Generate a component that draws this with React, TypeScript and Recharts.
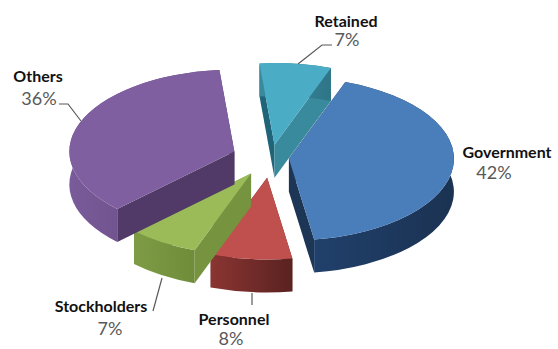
import React from "react";
import { PieChart, Pie } from "recharts";

const names = ["Retained", "Government", "Personnel", "Stockholders", "Others"];
const shares = [7, 42, 8, 7, 36];
const chartData = names.map((name, i) => ({ name, value: shares[i] }));

// how far each wedge is pulled out of the pie, along its middle angle
const explode = [27, 18, 40, 37, 39];

const SQUASH = 0.495;
const DEPTH = 33;
const RAD = Math.PI / 180;

const FACES = [
  { top: "#4BACC6", inner: "#1F6478", side: "#3A8A9E", wallFrom: "#3A8A9E", wallTo: "#2F7588" },
  { top: "#4A7EBB", inner: "#1D3656", side: "#1D3656", wallFrom: "#20406B", wallTo: "#1B3252" },
  { top: "#C0504D", inner: "#5C2321", side: "#5C2321", wallFrom: "#8A3532", wallTo: "#5A2220" },
  { top: "#9BBB59", inner: "#76933F", side: "#76933F", wallFrom: "#7E9C45", wallTo: "#6F8C3A" },
  { top: "#7F5F9F", inner: "#513A68", side: "#513A68", wallFrom: "#7A5B9A", wallTo: "#5C4478" },
];

const LABELS = [
  { nameX: 346, nameY: 27, pctX: 347, pctY: 46, leader: "332,45 322,45 298,64" },
  { nameX: 507, nameY: 158, pctX: 494, pctY: 179, leader: "" },
  { nameX: 234, nameY: 325, pctX: 231, pctY: 345, leader: "252,293 252,305" },
  { nameX: 101, nameY: 312, pctX: 110, pctY: 335, leader: "153,311 162,278" },
  { nameX: 38, nameY: 82, pctX: 39, pctY: 105, leader: "59,104 68,104 81,121" },
];

// flattened wedge with a bit of height: radial walls, rim, then the top
const Wedge3D = (props: any) => {
  const { cx, cy, outerRadius: r, startAngle, endAngle, index } = props;
  const mid = ((startAngle + endAngle) / 2) * RAD;
  const ox = cx + explode[index] * Math.cos(mid);
  const oy = cy - explode[index] * Math.sin(mid) * SQUASH;
  const ry = r * SQUASH;
  const at = (deg: number, drop = 0) =>
    `${ox + r * Math.cos(deg * RAD)} ${oy - ry * Math.sin(deg * RAD) + drop}`;
  const large = Math.abs(startAngle - endAngle) > 180 ? 1 : 0;
  const apex = `${ox} ${oy}`;
  const apexLow = `${ox} ${oy + DEPTH}`;
  const face = FACES[index];
  const gradId = `rim-${index}`;

  const top = `M${apex} L${at(startAngle)} A${r} ${ry} 0 ${large} 1 ${at(endAngle)} Z`;
  const rim =
    `M${at(startAngle)} A${r} ${ry} 0 ${large} 1 ${at(endAngle)} ` +
    `L${at(endAngle, DEPTH)} A${r} ${ry} 0 ${large} 0 ${at(startAngle, DEPTH)} Z`;
  const wallStart = `M${apex} L${at(startAngle)} L${at(startAngle, DEPTH)} L${apexLow} Z`;
  const wallEnd = `M${apex} L${at(endAngle)} L${at(endAngle, DEPTH)} L${apexLow} Z`;

  return (
    <g>
      <defs>
        <linearGradient id={gradId} x1="0" y1="0" x2="1" y2="0">
          <stop offset="0%" stopColor={face.wallFrom} />
          <stop offset="100%" stopColor={face.wallTo} />
        </linearGradient>
      </defs>
      <path d={wallStart} fill={face.inner} />
      <path d={wallEnd} fill={face.side} />
      <path d={rim} fill={`url(#${gradId})`} />
      <path d={top} fill={face.top} />
    </g>
  );
};

const renderLabel = (props: any) => {
  const { index, name, value } = props;
  const l = LABELS[index];
  return (
    <g fontFamily="Lato">
      {l.leader && <polyline points={l.leader} fill="none" stroke="#595959" strokeWidth={1.2} />}
      <text x={l.nameX} y={l.nameY} textAnchor="middle" fontSize={16} fontWeight={700} fill="#111111">
        {name}
      </text>
      <text x={l.pctX} y={l.pctY} textAnchor="middle" fontSize={18} fill="#595959">
        {value}%
      </text>
    </g>
  );
};

export default function App() {
  return (
    <div style={{ position: "absolute", left: 0, top: 0, background: "#fff" }}>
      <PieChart width={558} height={349} margin={{ top: 0, right: 0, bottom: 0, left: 0 }}>
        <Pie
          data={chartData}
          dataKey="value"
          nameKey="name"
          cx={271}
          cy={158}
          outerRadius={165}
          startAngle={95.2}
          endAngle={-264.8}
          stroke="none"
          shape={Wedge3D}
          label={renderLabel}
          labelLine={false}
          isAnimationActive={false}
        />
      </PieChart>
    </div>
  );
}
